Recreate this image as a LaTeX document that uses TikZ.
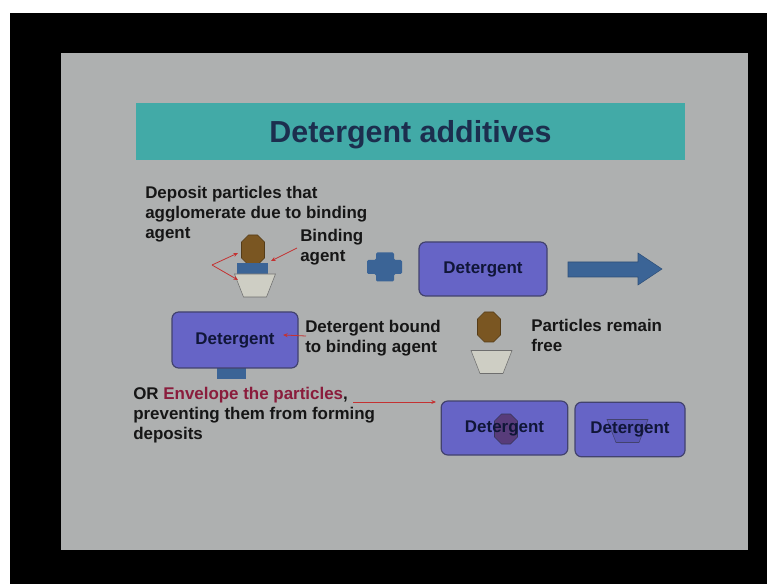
\documentclass[tikz,border=0pt]{standalone}
\usepackage{fontspec}
\setmainfont{Liberation Sans}
\usetikzlibrary{arrows.meta}
\definecolor{slidegray}{RGB}{174,176,176}
\definecolor{titleteal}{RGB}{66,170,167}
\definecolor{titleink}{RGB}{28,46,78}
\definecolor{detblue}{RGB}{102,100,198}
\definecolor{detedge}{RGB}{66,66,110}
\definecolor{detink}{RGB}{16,22,56}
\definecolor{agentblue}{RGB}{59,100,150}
\definecolor{particlebrown}{RGB}{122,86,34}
\definecolor{cupfill}{RGB}{206,206,196}
\definecolor{cupedge}{RGB}{110,110,110}
\definecolor{pointred}{RGB}{196,50,50}
\definecolor{envred}{RGB}{138,28,60}
\definecolor{ink}{RGB}{22,22,22}
\tikzset{
particlelook/.style={draw=particlebrown!70!black, fill=particlebrown},
cuplook/.style={draw=cupedge, fill=cupfill},
particle/.pic={
  \draw[particlelook] (-4.5,-15) -- (4.5,-15) -- (11.5,-8) -- (11.5,8) --
        (4.5,15) -- (-4.5,15) -- (-11.5,8) -- (-11.5,-8) -- cycle;
  },
cup/.pic={
  \draw[cuplook] (-20.5,-11.5) -- (20.5,-11.5) -- (11.5,11.5) -- (-11.5,11.5) -- cycle;
  },
slidetext/.style={font=\bfseries\fontsize{12.7}{15}\selectfont, text=ink,
  align=left, anchor=base west, inner sep=0pt},
detbox/.style={draw=detedge, line width=0.9pt, fill=detblue, rounded corners=5pt,
  font=\bfseries\fontsize{12.7}{15}\selectfont, text=detink, inner sep=0pt},
redarrow/.style={draw=pointred, line width=0.6pt, -{Stealth[length=3.5pt,width=3pt]}}
}
\begin{document}
\begin{tikzpicture}[x=0.75pt, y=-0.75pt]
\useasboundingbox (0,0) rectangle (767,584);
\fill[white] (0,0) rectangle (767,584);
\fill[black] (10,13) rectangle (767,584);
\fill[slidegray] (61,53) rectangle (748,550);

\fill[titleteal] (136,103) rectangle (685,160);
\node[font=\bfseries\fontsize{22.8}{27}\selectfont, text=titleink, anchor=base, inner sep=0pt]
  (title) at (410.5,143) {Detergent additives};

% multi-line text sits on the baseline of its last line
\node[slidetext] (deposit) at (145,239) {Deposit particles that\\agglomerate due to binding\\agent};
\pic at (253,250) {particle};
\fill[agentblue] (237,263) rectangle (268,274);
\pic at (255,285.5) {cup};
\coordinate (fork) at (212,265);
\coordinate (ontop) at (238,253);
\coordinate (oncup) at (238,280);
\draw[redarrow] (fork) -- (ontop);
\draw[redarrow] (fork) -- (oncup);

\node[slidetext] (binding) at (300,262) {Binding\\agent};
\coordinate (bindfrom) at (297,248);
\coordinate (bindto) at (271,261);
\draw[redarrow] (bindfrom) -- (bindto);

\fill[agentblue, rounded corners=1pt] (376,252.5) -- (394,252.5) -- (394,260) -- (402,260) --
      (402,274) -- (394,274) -- (394,281.5) -- (376,281.5) -- (376,274) --
      (367,274) -- (367,260) -- (376,260) -- cycle;

\node[detbox, minimum width=96pt, minimum height=40.5pt] (det1) at (483,269) {Detergent};

\fill[agentblue, draw=agentblue!80!black] (568,262) -- (638,262) -- (638,253) --
      (662,269) -- (638,285) -- (638,277) -- (568,277) -- cycle;

\fill[agentblue] (217,366) rectangle (246,379);
\node[detbox, minimum width=94.5pt, minimum height=42pt] (det2) at (235,340) {Detergent};
\node[slidetext] (bound) at (305,353) {Detergent bound\\to binding agent};
\coordinate (boundfrom) at (306,336);
\coordinate (boundto) at (283,335);
\draw[redarrow] (boundfrom) -- (boundto);

\pic at (489,327) {particle};
\pic at (491.5,362) {cup};
\node[slidetext] (free) at (531,352) {Particles remain\\free};

\node[slidetext] (envelope) at (133,439)
  {OR {\color{envred}Envelope the particles},\\preventing them from forming\\deposits};
\coordinate (envfrom) at (353,402);
\coordinate (envto) at (436,402);
\draw[redarrow] (envfrom) -- (envto);

\node[detbox, minimum width=95pt, minimum height=40.5pt] (det3) at (504.5,428) {};
\pic[particlelook/.style={draw=detedge!80!black, fill={rgb,255:red,88;green,60;blue,122}}]
  at (506,429) {particle};
\node[detbox, draw=none, fill=none] (det3text) at (504.5,428) {Detergent};

\node[detbox, minimum width=82.5pt, minimum height=41pt] (det4) at (630,429.5) {};
\pic[cuplook/.style={draw=detedge, fill={rgb,255:red,90;green,88;blue,182}}]
  at (627.5,431) {cup};
\node[detbox, draw=none, fill=none] (det4text) at (630,429.5) {Detergent};
\end{tikzpicture}
\end{document}
